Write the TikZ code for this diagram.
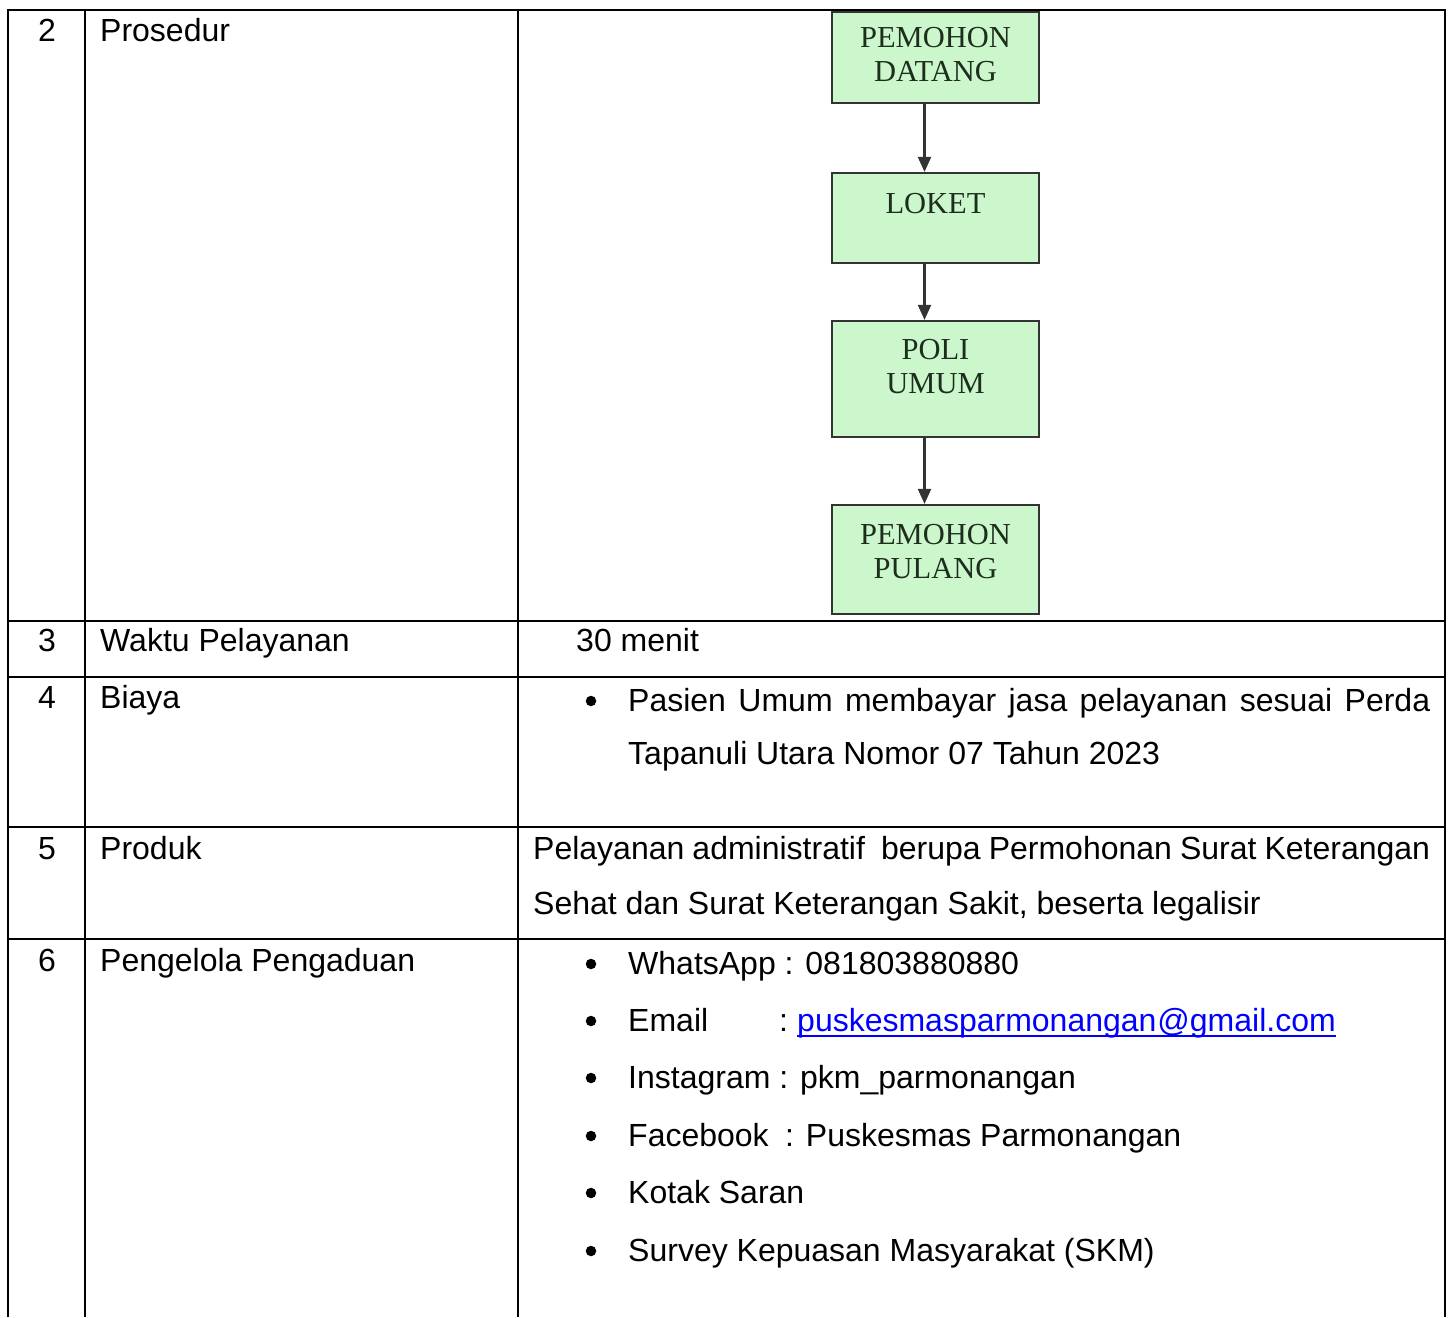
\documentclass[tikz,border=0pt]{standalone}
\usepackage{fontspec}
\setmainfont{Liberation Sans}
\newfontfamily\boxfont{Liberation Serif}
\usetikzlibrary{arrows.meta}
\definecolor{boxfill}{HTML}{CCF7CC}
\definecolor{boxline}{HTML}{333333}
\definecolor{boxtext}{HTML}{1E2E1E}
\definecolor{linkblue}{HTML}{0000FF}
\tikzset{
  grid/.style={line width=2.8pt, black},
  tx/.style={anchor=base west, inner sep=0pt, font=\fontsize{32}{37}\selectfont},
  num/.style={anchor=base, inner sep=0pt, font=\fontsize{32}{37}\selectfont},
  bul/.style={circle, fill=black, inner sep=0pt, minimum size=10.5pt},
  flowbox/.style={draw=boxline, line width=2.2pt, fill=boxfill, minimum width=207pt, inner sep=0pt},
  flowtext/.style={inner sep=0pt, align=center, text=boxtext, font=\boxfont\fontsize{30.5}{34}\selectfont},
  arr/.style={line width=2.2pt, boxline, -{Triangle[length=15pt,width=13pt]}}
}
\begin{document}
\begin{tikzpicture}[x=1pt,y=-1pt]
\useasboundingbox (0,0) rectangle (1453,1317);
% table grid
\draw[grid] (8,1317) -- (8,10) -- (1445,10) -- (1445,1317);
\draw[grid] (85,10) -- (85,1317);
\draw[grid] (518,10) -- (518,1317);
\draw[grid] (8,621) -- (1445,621);
\draw[grid] (8,677) -- (1445,677);
\draw[grid] (8,827) -- (1445,827);
\draw[grid] (8,939) -- (1445,939);

% left columns
\node[num] (n2) at (47,41) {2};
\node[tx] (l2) at (100,41) {Prosedur};
\node[num] (n3) at (47,651) {3};
\node[tx] (l3) at (100,651) {Waktu Pelayanan};
\node[num] (n4) at (47,708) {4};
\node[tx] (l4) at (100,708) {Biaya};
\node[num] (n5) at (47,859) {5};
\node[tx] (l5) at (100,859) {Produk};
\node[num] (n6) at (47,971) {6};
\node[tx] (l6) at (100,971) {Pengelola Pengaduan};

% flowchart
\node[flowbox, minimum height=91pt] (b1) at (935.5,57.5) {};
\node[flowtext] (t1) at (935.5,55) {PEMOHON\\DATANG};
\node[flowbox, minimum height=90pt] (b2) at (935.5,218) {};
\node[flowtext] (t2) at (935.5,204) {LOKET};
\node[flowbox, minimum height=116pt] (b3) at (935.5,379) {};
\node[flowtext] (t3) at (935.5,367) {POLI\\UMUM};
\node[flowbox, minimum height=109pt] (b4) at (935.5,559.5) {};
\node[flowtext] (t4) at (935.5,551.5) {PEMOHON\\PULANG};
\draw[arr] ([xshift=-11pt]b1.south) -- ([xshift=-11pt]b2.north);
\draw[arr] ([xshift=-11pt]b2.south) -- ([xshift=-11pt]b3.north);
\draw[arr] ([xshift=-11pt]b3.south) -- ([xshift=-11pt]b4.north);

% row 3
\node[tx] (r3) at (576,651) {30 menit};

% row 4
\node[bul] (bu1) at (591,701) {};
\node[tx] (r4a) at (628,711) {\makebox[802pt][s]{Pasien Umum membayar jasa pelayanan sesuai Perda}};
\node[tx] (r4b) at (628,764) {Tapanuli Utara Nomor 07 Tahun 2023};

% row 5
\node[tx] (r5a) at (533,859) {\makebox[897pt][s]{Pelayanan administratif\ \ berupa Permohonan Surat Keterangan}};
\node[tx] (r5b) at (533,914) {Sehat dan Surat Keterangan Sakit, beserta legalisir};

% row 6
\node[bul] (bu2) at (591,964) {};
\node[tx] (r6a) at (628,974) {WhatsApp : 081803880880};
\node[bul] (bu3) at (591,1021) {};
\node[tx] (r6b) at (628,1031) {Email};
\node[tx] (r6bc) at (779,1031) {:};
\node[tx, text=linkblue] (r6bl) at (797,1031) {puskesmasparmonangan\hspace{1pt}@gmail.com};
\draw[linkblue, line width=2.2pt] ([yshift=-5pt]r6bl.base west) -- ([yshift=-5pt]r6bl.base east);
\node[bul] (bu4) at (591,1078) {};
\node[tx] (r6c) at (628,1088) {Instagram : pkm\_parmonangan};
\node[bul] (bu5) at (591,1136) {};
\node[tx] (r6d) at (628,1146) {Facebook};
\node[tx] (r6dc) at (785,1146) {: Puskesmas Parmonangan};
\node[bul] (bu6) at (591,1193) {};
\node[tx] (r6e) at (628,1203) {Kotak Saran};
\node[bul] (bu7) at (591,1251) {};
\node[tx] (r6f) at (628,1261) {Survey Kepuasan Masyarakat (SKM)};
\end{tikzpicture}
\end{document}
